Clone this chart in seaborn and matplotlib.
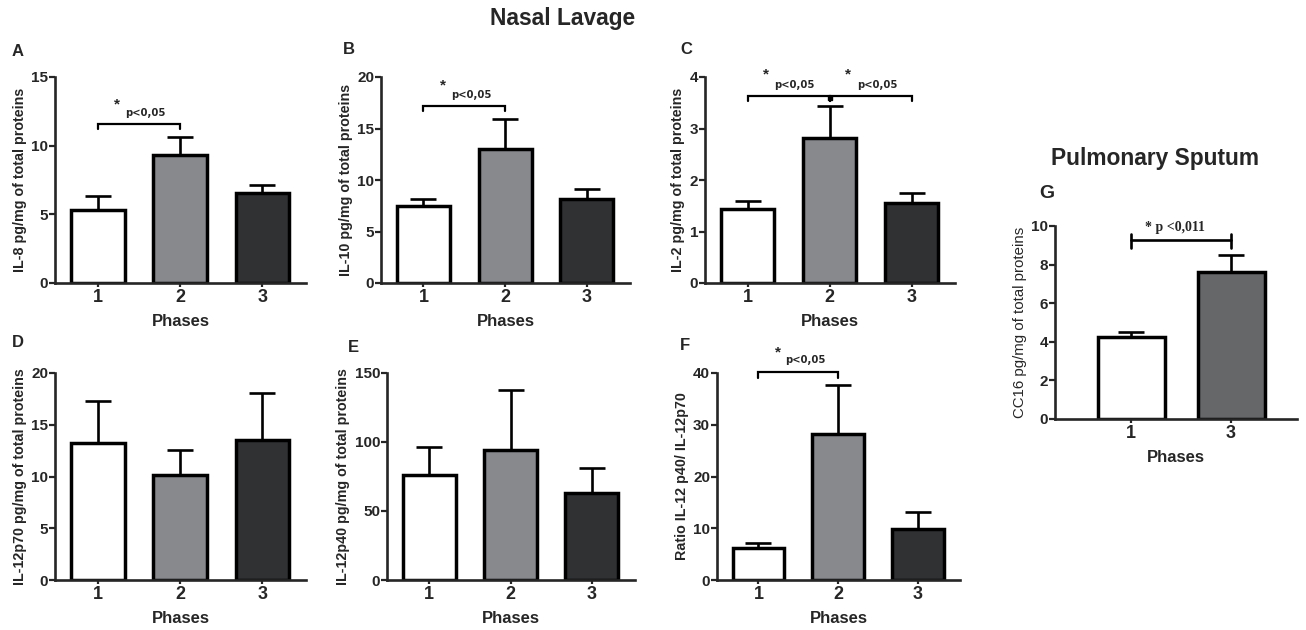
import numpy as np
import pandas as pd
import matplotlib.pyplot as plt
import seaborn as sns

sns.set_style("ticks")
plt.rcParams['font.family'] = ['Liberation Sans', 'DejaVu Sans']
plt.rcParams['font.weight'] = 'bold'

# ----------- dades: mitjanes i SEM (barra superior) -----------
phases = ["1", "2", "3"]
il8_mean = [5.3, 9.3, 6.55]
il8_sem = [1.0, 1.3, 0.55]
il10_mean = [7.5, 13.0, 8.15]
il10_sem = [0.65, 2.9, 0.95]
il2_mean = [1.43, 2.81, 1.55]
il2_sem = [0.17, 0.63, 0.2]
il12p70_mean = [13.2, 10.1, 13.5]
il12p70_sem = [4.1, 2.5, 4.6]
il12p40_mean = [76, 94.5, 63]
il12p40_sem = [20.5, 43.5, 18]
ratio_mean = [6.2, 28.2, 9.9]
ratio_sem = [1.0, 9.5, 3.3]

sputum_phases = ["1", "3"]
cc16_mean = [4.25, 7.6]
cc16_sem = [0.25, 0.9]

bar_colors = ["#ffffff", "#86898d", "#2e3133"]
cc16_colors = ["#ffffff", "#646768"]

W, H = 1306, 630
fig = plt.figure(figsize=(W / 100, H / 100), dpi=100)


def px_axes(x0, x1, y0, y1):
    # y0 = píxel superior, y1 = píxel inferior
    return fig.add_axes([x0 / W, 1 - y1 / H, (x1 - x0) / W, (y1 - y0) / H])


def panel(ax, cats, means, sems, colors, ylabel, ymax, yticks, width=0.65, xlim=(-0.52, 2.53)):
    df = pd.DataFrame({"Phase": cats, "mean": means})
    sns.barplot(data=df, x="Phase", y="mean", hue="Phase", palette=colors, legend=False,
                edgecolor="black", linewidth=2.5, width=width, errorbar=None, ax=ax)
    xs = np.arange(len(cats))
    ax.errorbar(xs, means, yerr=[np.zeros(len(cats)), sems], fmt="none", ecolor="black",
                elinewidth=1.9, capsize=9.5, capthick=1.9, zorder=1)
    ax.set_ylim(0, ymax)
    ax.set_xlim(*xlim)
    ax.set_yticks(yticks)
    ax.set_ylabel(ylabel, fontsize=10.3, fontweight="bold", labelpad=3)
    ax.set_xlabel("Phases", fontsize=12, fontweight="bold", labelpad=6)
    sns.despine(ax=ax)
    for s in ["left", "bottom"]:
        ax.spines[s].set_linewidth(1.9)
    ax.tick_params(axis="y", labelsize=11, width=1.6, length=4, pad=1)
    ax.tick_params(axis="x", labelsize=13, width=1.6, length=3, pad=1)
    for lab in ax.get_xticklabels() + ax.get_yticklabels():
        lab.set_fontweight("bold")


def bracket(ax, x0, x1, y, tick):
    ax.plot([x0, x0, x1, x1], [y - tick, y, y, y - tick], color="black", lw=1.6,
            clip_on=False, solid_joinstyle="miter")


def star(ax, x, y_star, y_p, label="p<0,05"):
    ax.text(x, y_star, "*", fontsize=11, fontweight="bold", ha="center", va="center", clip_on=False)
    ax.text(x + 0.1, y_p, label, fontsize=8, fontweight="bold", ha="left", va="center",
            clip_on=False, family=["DejaVu Sans"], stretch="condensed")


# ----------- A -----------
axA = px_axes(55, 306, 77, 283)
panel(axA, phases, il8_mean, il8_sem, bar_colors, "IL-8 pg/mg of total proteins", 15, [0, 5, 10, 15])
bracket(axA, 0, 1, 11.6, 0.4)
star(axA, 0.23, 13.0, 12.4)

# ----------- B -----------
axB = px_axes(381, 630, 77, 283)
panel(axB, phases, il10_mean, il10_sem, bar_colors, "IL-10 pg/mg of total proteins", 20, [0, 5, 10, 15, 20])
bracket(axB, 0, 1, 17.2, 0.5)
star(axB, 0.24, 19.2, 18.3)

# ----------- C -----------
axC = px_axes(705, 955, 77, 283)
panel(axC, phases, il2_mean, il2_sem, bar_colors, "IL-2 pg/mg of total proteins", 4, [0, 1, 2, 3, 4])
bracket(axC, 0, 1, 3.63, 0.1)
bracket(axC, 1, 2, 3.63, 0.1)
axC.plot([1], [3.6], marker="s", ms=3.5, color="black", clip_on=False)
star(axC, 0.22, 4.04, 3.85)
star(axC, 1.23, 4.04, 3.85)

# ----------- D -----------
axD = px_axes(55, 306, 373, 580)
panel(axD, phases, il12p70_mean, il12p70_sem, bar_colors, "IL-12p70 pg/mg of total proteins", 20, [0, 5, 10, 15, 20])

# ----------- E -----------
axE = px_axes(387, 635, 373, 580)
panel(axE, phases, il12p40_mean, il12p40_sem, bar_colors, "IL-12p40 pg/mg of total proteins", 150, [0, 50, 100, 150])

# ----------- F -----------
axF = px_axes(717, 960, 373, 580)
panel(axF, phases, ratio_mean, ratio_sem, bar_colors, "Ratio IL-12 p40/ IL-12p70", 40, [0, 10, 20, 30, 40])
bracket(axF, 0, 1, 40.2, 1.2)
star(axF, 0.24, 43.9, 42.5)

# ----------- G -----------
axG = px_axes(1055, 1297, 226, 419)
panel(axG, sputum_phases, cc16_mean, cc16_sem, cc16_colors, "CC16 pg/mg of total proteins", 10,
      [0, 2, 4, 6, 8, 10], width=0.67, xlim=(-0.76, 1.66))
axG.set_ylabel("CC16 pg/mg of total proteins", fontsize=10.8, fontweight="normal", labelpad=3)
axG.plot([0, 1], [9.3, 9.3], color="black", lw=1.9)
axG.plot([0, 0], [8.85, 9.6], color="black", lw=1.9)
axG.plot([1, 1], [8.85, 9.6], color="black", lw=1.9)
axG.text(0.44, 9.9, "* p <0,011", fontsize=10, fontweight="bold", ha="center", va="center",
         family=["Liberation Serif", "DejaVu Serif"], clip_on=False)

# ----------- títols i lletres -----------
fig.text(563 / W, 1 - 18 / H, "Nasal Lavage", fontsize=16.4, fontweight="bold", ha="center", va="center")
fig.text(1155 / W, 1 - 158 / H, "Pulmonary Sputum", fontsize=16.4, fontweight="bold", ha="center", va="center")
for letter, x, y in [("A", 12, 52), ("B", 343, 50), ("C", 680, 50), ("D", 12, 343),
                     ("E", 348, 347), ("F", 680, 345), ("G", 1039, 193)]:
    fig.text(x / W, 1 - y / H, letter, fontsize=14 if letter == "G" else 12, fontweight="bold",
             ha="left", va="center")

fig.savefig("out.png", dpi=100)
